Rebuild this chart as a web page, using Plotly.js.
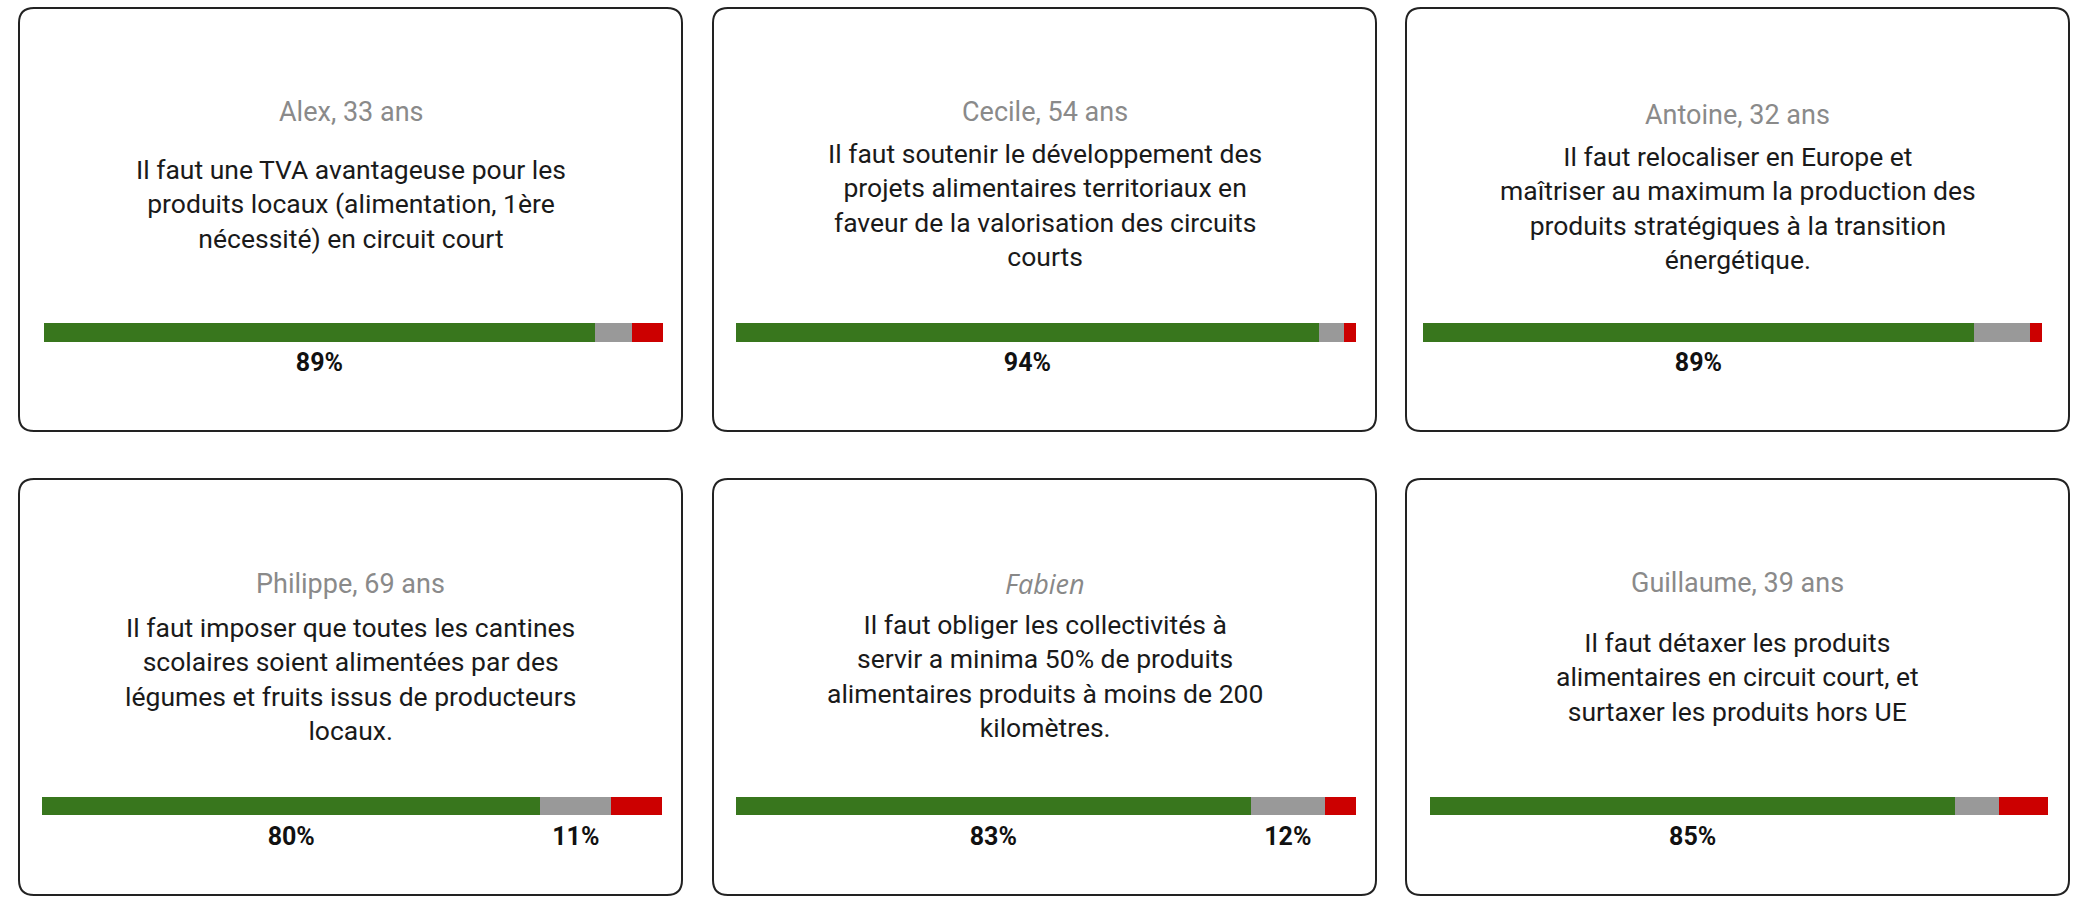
<!DOCTYPE html>
<html>
<head>
<meta charset="utf-8">
<script src="https://cdn.plot.ly/plotly-3.0.1.min.js"></script>
<style>
html,body{margin:0;padding:0;background:#fff;}
#chart{width:2077px;height:897px;}
</style>
</head>
<body>
<div id="chart"></div>
<script>
// ---- data ----
const names = ["Alex, 33 ans", "Cecile, 54 ans", "Antoine, 32 ans", "Philippe, 69 ans", "Fabien", "Guillaume, 39 ans"];
const statements = [
  "Il faut une TVA avantageuse pour les<br>produits locaux (alimentation, 1ère<br>nécessité) en circuit court",
  "Il faut soutenir le développement des<br>projets alimentaires territoriaux en<br>faveur de la valorisation des circuits<br>courts",
  "Il faut relocaliser en Europe et<br>maîtriser au maximum la production des<br>produits stratégiques à la transition<br>énergétique.",
  "Il faut imposer que toutes les cantines<br>scolaires soient alimentées par des<br>légumes et fruits issus de producteurs<br>locaux.",
  "Il faut obliger les collectivités à<br>servir a minima 50% de produits<br>alimentaires produits à moins de 200<br>kilomètres.",
  "Il faut détaxer les produits<br>alimentaires en circuit court, et<br>surtaxer les produits hors UE"
];
const pour   = [89, 94, 89, 80.4, 83, 85];
const neutre = [6, 4, 9, 11.4, 12, 7];
const contre = [5, 2, 2, 8.2, 5, 8];
const italicName = [false, false, false, false, true, false];

// ---- layout geometry (pixels) ----
const W = 2077, H = 897;
const cardX = [[19, 682], [713, 1376], [1406, 2069]];
const cardY = [[8, 431], [479, 895]];
const barX = [[44, 663], [736, 1356], [1423, 2042], [42, 662], [736, 1356], [1430, 2048]];
const rowGeo = [
  {barC: 332.5, barH: 19, labelY: 365},
  {barC: 806, barH: 18.5, labelY: 839}
];
const nameY = [112, 112, 115, 584, 583, 583];
const bodyY = [204, 205, 208, 679, 676, 677];

const colors = ["#38761d", "#999999", "#cc0000"];
const series = [pour, neutre, contre];

const px = x => x / W;
const py = y => 1 - y / H;

const traces = [];
const layout = {
  width: W, height: H,
  margin: {l: 0, r: 0, t: 0, b: 0},
  paper_bgcolor: "#ffffff",
  plot_bgcolor: "rgba(0,0,0,0)",
  barmode: "stack",
  showlegend: false,
  shapes: [],
  annotations: []
};

for (let i = 0; i < 6; i++) {
  const row = Math.floor(i / 3), col = i % 3;
  const g = rowGeo[row];
  const ax = i === 0 ? "" : String(i + 1);
  const top = g.barC - 20, bot = g.barC + 55;
  const Hd = bot - top;
  const yBar = Hd - 20;
  const yLab = yBar - (g.labelY - g.barC);

  layout["xaxis" + ax] = {
    domain: [px(barX[i][0]), px(barX[i][1])],
    range: [0, 100], visible: false, fixedrange: true,
    anchor: "y" + ax
  };
  layout["yaxis" + ax] = {
    domain: [py(bot), py(top)],
    range: [0, Hd], visible: false, fixedrange: true,
    anchor: "x" + ax
  };

  let cum = 0;
  const labX = [], labT = [];
  series.forEach((s, k) => {
    traces.push({
      type: "bar", orientation: "h",
      x: [s[i]], y: [yBar], width: g.barH,
      marker: {color: colors[k], line: {width: 0}},
      xaxis: "x" + ax, yaxis: "y" + ax,
      hoverinfo: "skip"
    });
    if (s[i] >= 10) {
      labX.push(cum + s[i] / 2);
      labT.push(Math.round(s[i]) + "%");
    }
    cum += s[i];
  });
  traces.push({
    type: "scatter", mode: "text",
    x: labX, y: labX.map(() => yLab), text: labT,
    textposition: "middle center",
    textfont: {family: "Roboto", size: 25, weight: 700, color: "#111111"},
    cliponaxis: false,
    xaxis: "x" + ax, yaxis: "y" + ax, hoverinfo: "skip"
  });

  // card outline (rounded rectangle)
  const x0 = cardX[col][0], x1 = cardX[col][1];
  const y0 = cardY[row][0], y1 = cardY[row][1];
  const r = 15;
  const path =
    `M ${px(x0 + r)} ${py(y0)} L ${px(x1 - r)} ${py(y0)} ` +
    `Q ${px(x1)} ${py(y0)} ${px(x1)} ${py(y0 + r)} ` +
    `L ${px(x1)} ${py(y1 - r)} Q ${px(x1)} ${py(y1)} ${px(x1 - r)} ${py(y1)} ` +
    `L ${px(x0 + r)} ${py(y1)} Q ${px(x0)} ${py(y1)} ${px(x0)} ${py(y1 - r)} ` +
    `L ${px(x0)} ${py(y0 + r)} Q ${px(x0)} ${py(y0)} ${px(x0 + r)} ${py(y0)} Z`;
  layout.shapes.push({
    type: "path", xref: "paper", yref: "paper", path: path,
    line: {color: "#222222", width: 2}, fillcolor: "rgba(0,0,0,0)", layer: "below"
  });

  const cx = (x0 + x1) / 2;
  layout.annotations.push({
    xref: "paper", yref: "paper", x: px(cx), y: py(nameY[i]),
    xanchor: "center", yanchor: "middle", showarrow: false,
    text: names[i],
    font: italicName[i]
      ? {family: "Open Sans", size: 27, style: "italic", color: "#888888"}
      : {family: "Roboto", size: 27, color: "#8a8a8a"}
  });
  layout.annotations.push({
    xref: "paper", yref: "paper", x: px(cx), y: py(bodyY[i]),
    xanchor: "center", yanchor: "middle", showarrow: false, align: "center",
    text: statements[i],
    font: {family: "Roboto", size: 26.5, color: "#1a1a1a"}
  });
}

Plotly.newPlot("chart", traces, layout, {displayModeBar: false, staticPlot: true});
</script>
</body>
</html>
